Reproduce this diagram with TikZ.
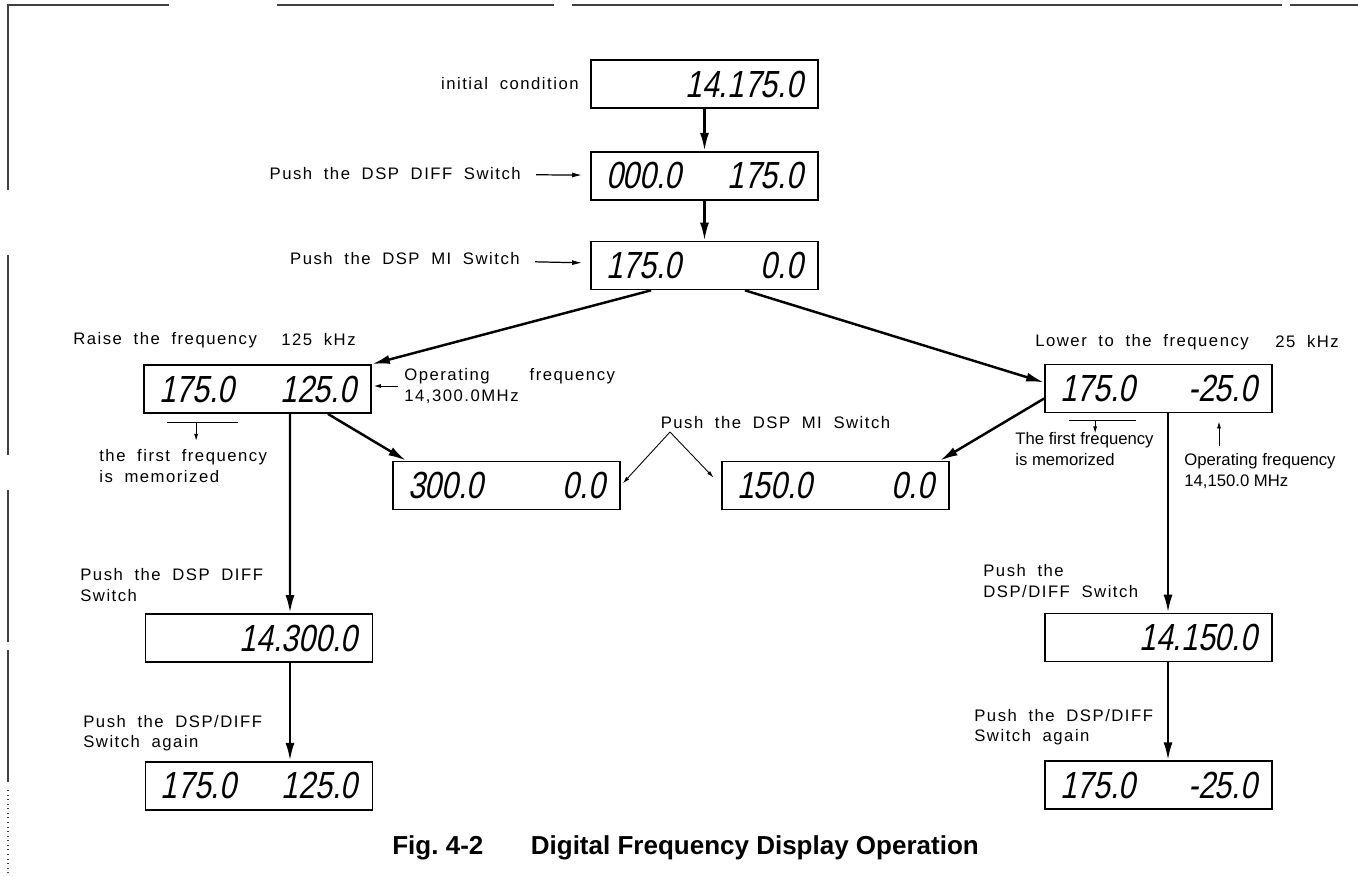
\documentclass[tikz,border=0pt]{standalone}
\usepackage{fontspec}
\setmainfont{Liberation Sans}
\newfontfamily\lcdfont{Liberation Sans}[FakeSlant=0.2, FakeStretch=0.8]
\newfontfamily\notefont{Liberation Sans}[LetterSpace=9, WordSpace=1.9]
\usetikzlibrary{positioning, arrows.meta}
\tikzset{
	display/.style={
		rectangle,
		draw,
		line width=1pt,
		text width=3.94cm,
		inner xsep=0.3cm,
		inner ysep=0pt,
		minimum height=0.96cm,
		font=\lcdfont\fontsize{21.5}{21.5}\selectfont,
	},
	note/.style={
		inner sep=0pt,
		align=left,
		font=\notefont\fontsize{9.5}{11.5}\selectfont,
	},
	tight note/.style={
		note,
		font=\fontsize{9.5}{11.5}\selectfont,
	},
	flow/.style={
		-{Latex[length=0.36cm, width=0.18cm]},
		line width=1.4pt,
	},
	pointer/.style={
		-{Latex[length=0.2cm, width=0.1cm]},
		line width=0.7pt,
	},
	tick/.style={
		-{Latex[length=0.14cm, width=0.08cm]},
		line width=0.5pt,
	},
	frame/.style={
		line width=0.6pt,
		black!75,
	},
}

\begin{document}
\begin{tikzpicture}[x=0.02cm, y=-0.02cm]
	\useasboundingbox (0,0) rectangle (1358,876);
	% frame of the scanned page
	\draw [frame] (8,12) -- (8,5) -- (169,5);
	\draw [frame] (277,5) -- (554,5);
	\draw [frame] (572,5) -- (1282,5);
	\draw [frame] (1290,5) -- (1358,5);
	\draw [frame] (8,5) -- (8,190);
	\draw [frame] (8,255) -- (8,455);
	\draw [frame] (8,490) -- (8,642);
	\draw [frame] (8,650) -- (8,782);
	\draw [frame, dotted] (8,790) -- (8,876);

	% displays
	\node [display] (init) at (704.5,84) {\hfill 14.175.0};
	\node [display, below = 0.84cm of init] (diff) {000.0\hfill 175.0};
	\node [display, below = 0.8cm of diff] (mi) {175.0\hfill 0.0};
	\node [display] (raise) at (257.5,389) {175.0\hfill 125.0};
	\node [display] (lower) at (1158.5,388.5) {175.0\hfill -25.0};
	\node [display] (three) at (506.5,485.5) {300.0\hfill 0.0};
	\node [display] (onefifty) at (835.5,485.5) {150.0\hfill 0.0};
	\node [display] (rsum) at (259,638) {\hfill 14.300.0};
	\node [display, below = 1.96cm of rsum] (rback) {175.0\hfill 125.0};
	\node [display] (lsum) at (1158.5,637.5) {\hfill 14.150.0};
	\node [display, below = 1.96cm of lsum] (lback) {175.0\hfill -25.0};

	% notes
	\node [note, anchor = east] (initN) at (579,84) {initial condition};
	\node [note, anchor = east] (pdiff) at (521,174) {Push the DSP DIFF Switch};
	\node [note, anchor = east] (pmi) at (520,259) {Push the DSP MI Switch};
	\node [note, anchor = west] (raiseN) at (73,340) {Raise the frequency};
	\node [note, anchor = west] (raiseK) at (281,340) {125 kHz};
	\node [note, anchor = west] (opL) at (404,386) {Operating\hspace{0.8cm}frequency\\14,300.0MHz};
	\node [note, anchor = west] (firstL) at (99,466) {the first frequency\\is memorized};
	\node [note] (pmiMid) at (775.5,423) {Push the DSP MI Switch};
	\node [note, anchor = west] (lowerN) at (1035,342) {Lower to the frequency};
	\node [note, anchor = west] (lowerK) at (1275,342) {25 kHz};
	\node [tight note, anchor = west] (firstR) at (1015,449) {The first frequency\\is memorized};
	\node [tight note, anchor = west] (opR) at (1184,471) {Operating frequency\\14,150.0 MHz};
	\node [note, anchor = west] (rsumN) at (80,585) {Push the DSP DIFF\\Switch};
	\node [note, anchor = west] (rbackN) at (83,733) {Push the DSP/DIFF\\Switch again};
	\node [note, anchor = west] (lsumN) at (983,581) {Push the\\DSP/DIFF Switch};
	\node [note, anchor = west] (lbackN) at (974,727) {Push the DSP/DIFF\\Switch again};
	\node [anchor = west, inner sep=0pt, font=\bfseries\fontsize{14.8}{16}\selectfont] (caption) at (392,848) {Fig.~4-2\hspace{0.95cm}Digital Frequency Display Operation};
	\coordinate (apex) at (670,432);

	% main flow
	\draw [flow] (init) -- (diff);
	\draw [flow] (diff) -- (mi);
	\draw [flow] ([xshift=-1.07cm]mi.south) -- (raise.north east);
	\draw [flow] ([xshift=0.81cm]mi.south) -- ([yshift=0.12cm]lower.west);
	\draw [flow] ([xshift=-0.88cm]raise.south east) -- ([xshift=0.28cm]three.north west);
	\draw [flow] ([yshift=-0.2cm]lower.west) -- ([xshift=-0.2cm]onefifty.north east);
	\draw [flow] ([xshift=0.65cm]raise.south) -- ([xshift=0.62cm]rsum.north);
	\draw [flow] ([xshift=0.62cm]rsum.south) -- ([xshift=0.62cm]rback.north);
	\draw [flow] ([xshift=0.19cm]lower.south) -- ([xshift=0.19cm]lsum.north);
	\draw [flow] ([xshift=0.19cm]lsum.south) -- ([xshift=0.19cm]lback.north);

	% pointers
	\draw [pointer, shorten <=0.3cm, shorten >=0.16cm] (pdiff) -- (diff);
	\draw [pointer, shorten <=0.3cm, shorten >=0.16cm] (pmi) -- (mi);
	\draw [tick, shorten >=0.06cm] (apex) -- (three.east);
	\draw [tick, shorten >=0.22cm] (apex) -- (onefifty.west);
	\draw [tick, shorten >=0.04cm] ([xshift=-0.12cm]opL.west) -- (opL.west -| raise.east);
	\draw [tick] ([shift={(0.7cm,0.14cm)}]opR.north west) -- ++(0,0.5cm);

	% first frequency marks
	\draw [line width=0.6pt] ([shift={(0.48cm,-0.18cm)}]raise.south west) coordinate (ulL) -- ++(1.42cm,0);
	\draw [tick] ([xshift=0.58cm]ulL) -- ++(0,-0.36cm);
	\draw [line width=0.6pt] ([shift={(0.5cm,-0.14cm)}]lower.south west) coordinate (ulR) -- ++(1.34cm,0);
	\draw [tick] ([xshift=0.52cm]ulR) -- ++(0,-0.26cm);
\end{tikzpicture}
\end{document}
